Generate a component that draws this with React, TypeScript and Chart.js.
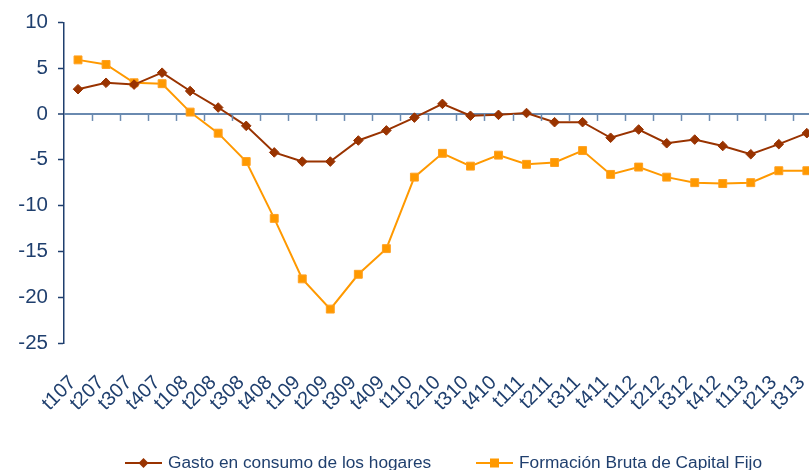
import React, { useEffect, useRef } from "react";
import { Chart, registerables } from "chart.js";

Chart.register(...registerables);

const categories = ["t107","t207","t307","t407","t108","t208","t308","t408","t109","t209","t309","t409","t110","t210","t310","t410","t111","t211","t311","t411","t112","t212","t312","t412","t113","t213","t313"];
const gastoConsumo = [2.7,3.4,3.2,4.5,2.5,0.7,-1.3,-4.2,-5.2,-5.2,-2.9,-1.8,-0.4,1.1,-0.2,-0.1,0.1,-0.9,-0.9,-2.6,-1.7,-3.2,-2.8,-3.5,-4.4,-3.3,-2.1];
const formacionBruta = [5.9,5.4,3.4,3.3,0.2,-2.1,-5.2,-11.4,-18.0,-21.3,-17.5,-14.7,-6.9,-4.3,-5.7,-4.5,-5.5,-5.3,-4.0,-6.6,-5.8,-6.9,-7.5,-7.6,-7.5,-6.2,-6.2];
const yTicks = [10,5,0,-5,-10,-15,-20,-25];

const TEXT = "#1f3f6e";
const ZERO = "#6a8ab0";
const FONT = "'Liberation Sans', Arial, sans-serif";

const zeroTicksPlugin = {
  id: "zeroTicks",
  afterDatasetsDraw(chart: any) {
    const x = chart.scales.x;
    const y = chart.scales.y;
    const ctx = chart.ctx;
    const y0 = y.getPixelForValue(0);
    ctx.save();
    ctx.strokeStyle = ZERO;
    ctx.lineWidth = 1.5;
    const n = chart.data.labels.length;
    for (let i = 1; i <= n; i++) {
      const a = x.getPixelForValue(i - 1);
      const b = i < n ? x.getPixelForValue(i) : a + (a - x.getPixelForValue(i - 2));
      const px = Math.round((a + b) / 2) + 0.5;
      ctx.beginPath();
      ctx.moveTo(px, y0);
      ctx.lineTo(px, y0 + 7);
      ctx.stroke();
    }
    ctx.restore();
  },
};

const legendPlugin = {
  id: "lineLegend",
  afterDraw(chart: any) {
    const ctx = chart.ctx;
    const starts = [125, 476];
    const cy = 463;
    ctx.save();
    ctx.font = `17.3px ${FONT}`;
    ctx.textBaseline = "middle";
    chart.data.datasets.forEach((ds: any, i: number) => {
      const x0 = starts[i];
      ctx.strokeStyle = ds.borderColor;
      ctx.lineWidth = 2;
      ctx.beginPath();
      ctx.moveTo(x0, cy);
      ctx.lineTo(x0 + 37, cy);
      ctx.stroke();
      ctx.fillStyle = ds.pointBackgroundColor;
      const mx = x0 + 18.5;
      if (ds.pointStyle === "rectRot") {
        ctx.beginPath();
        ctx.moveTo(mx, cy - 5);
        ctx.lineTo(mx + 5, cy);
        ctx.lineTo(mx, cy + 5);
        ctx.lineTo(mx - 5, cy);
        ctx.closePath();
        ctx.fill();
      } else {
        ctx.fillRect(mx - 4.5, cy - 4.5, 9, 9);
      }
      ctx.fillStyle = TEXT;
      ctx.textAlign = "left";
      ctx.fillText(ds.label, x0 + 43, cy);
    });
    ctx.restore();
  },
};

export default function App() {
  const ref = useRef<HTMLCanvasElement | null>(null);
  useEffect(() => {
    document.body.style.margin = "0";
    document.body.style.overflow = "hidden";
    const chart = new Chart(ref.current as HTMLCanvasElement, {
      type: "line",
      data: {
        labels: categories,
        datasets: [
          {
            label: "Gasto en consumo de los hogares",
            data: gastoConsumo,
            borderColor: "#993300",
            backgroundColor: "#993300",
            pointBackgroundColor: "#993300",
            pointBorderColor: "#993300",
            pointStyle: "rectRot",
            pointRadius: 4.8,
            pointBorderWidth: 1,
            borderWidth: 2,
            tension: 0,
          },
          {
            label: "Formación Bruta de Capital Fijo",
            data: formacionBruta,
            borderColor: "#ff9900",
            backgroundColor: "#ff9900",
            pointBackgroundColor: "#ff9900",
            pointBorderColor: "#ffa020",
            pointStyle: "rect",
            pointRadius: 5.6,
            pointBorderWidth: 1,
            borderWidth: 2,
            tension: 0,
          },
        ],
      },
      options: {
        responsive: false,
        animation: false,
        layout: { padding: { top: 21, right: 10, left: 0, bottom: 0 } },
        plugins: { legend: { display: false }, tooltip: { enabled: false } },
        scales: {
          x: {
            offset: true,
            border: { display: false },
            grid: { display: false, offset: true },
            ticks: {
              autoSkip: false,
              maxRotation: 45,
              minRotation: 45,
              color: TEXT,
              font: { family: FONT, size: 20 },
              padding: 20,
              labelOffset: -5,
            },
            afterFit(scale: any) {
              scale.height = 127;
            },
          },
          y: {
            min: -25,
            max: 10,
            afterBuildTicks(scale: any) {
              scale.ticks = yTicks.map((v) => ({ value: v }));
            },
            border: { display: true, color: TEXT, width: 1.5 },
            grid: {
              drawOnChartArea: true,
              color: (c: any) => (c.tick && c.tick.value === 0 ? ZERO : "rgba(0,0,0,0)"),
              lineWidth: (c: any) => (c.tick && c.tick.value === 0 ? 2 : 1),
              tickColor: TEXT,
              tickLength: 6,
              tickWidth: 1.5,
            },
            ticks: {
              color: TEXT,
              font: { family: FONT, size: 20.5 },
              padding: 10,
            },
            afterFit(scale: any) {
              scale.width = 64;
            },
          },
        },
      },
      plugins: [zeroTicksPlugin, legendPlugin],
    } as any);
    return () => chart.destroy();
  }, []);
  return (
    <div style={{ width: 809, height: 470, overflow: "hidden", background: "#fff" }}>
      <canvas ref={ref} width={844} height={470} style={{ display: "block" }} />
    </div>
  );
}
